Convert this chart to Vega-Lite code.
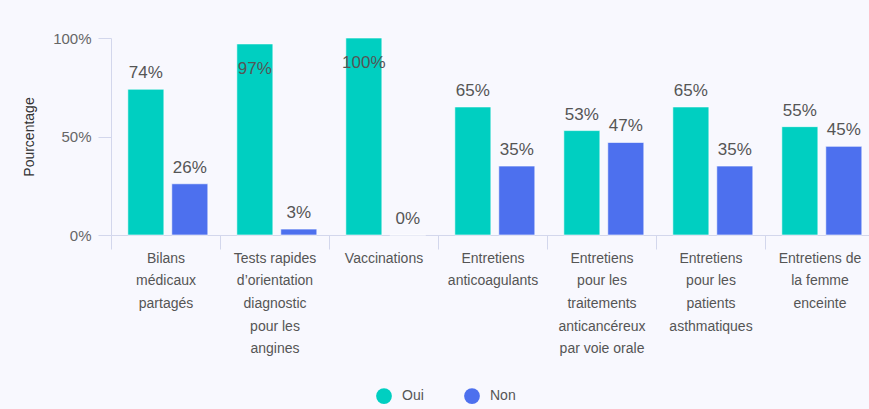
{
  "$schema": "https://vega.github.io/schema/vega-lite/v6.json",
  "autosize": {"type": "none"},
  "width": 763,
  "height": 197,
  "padding": {"left": 111, "top": 38, "right": 0, "bottom": 174},
  "background": "#f8f8fe",
  "config": {
    "view": {"stroke": null},
    "font": "Liberation Sans"
  },
  "data": {
    "values": [
      {"acte": "Bilans|médicaux|partagés", "reponse": "Oui", "pct": 74},
      {"acte": "Bilans|médicaux|partagés", "reponse": "Non", "pct": 26},
      {"acte": "Tests rapides|d’orientation|diagnostic|pour les|angines", "reponse": "Oui", "pct": 97},
      {"acte": "Tests rapides|d’orientation|diagnostic|pour les|angines", "reponse": "Non", "pct": 3},
      {"acte": "Vaccinations", "reponse": "Oui", "pct": 100},
      {"acte": "Vaccinations", "reponse": "Non", "pct": 0},
      {"acte": "Entretiens|anticoagulants", "reponse": "Oui", "pct": 65},
      {"acte": "Entretiens|anticoagulants", "reponse": "Non", "pct": 35},
      {"acte": "Entretiens|pour les|traitements|anticancéreux|par voie orale", "reponse": "Oui", "pct": 53},
      {"acte": "Entretiens|pour les|traitements|anticancéreux|par voie orale", "reponse": "Non", "pct": 47},
      {"acte": "Entretiens|pour les|patients|asthmatiques", "reponse": "Oui", "pct": 65},
      {"acte": "Entretiens|pour les|patients|asthmatiques", "reponse": "Non", "pct": 35},
      {"acte": "Entretiens de|la femme|enceinte", "reponse": "Oui", "pct": 55},
      {"acte": "Entretiens de|la femme|enceinte", "reponse": "Non", "pct": 45}
    ]
  },
  "encoding": {
    "x": {
      "field": "acte",
      "type": "nominal",
      "sort": null,
      "scale": {"paddingInner": 0, "paddingOuter": 0},
      "axis": {
        "title": null,
        "labelAngle": 0,
        "labelExpr": "split(datum.label, '|')",
        "labelFontSize": 14,
        "labelColor": "#555555",
        "labelLineHeight": 22.7,
        "labelPadding": 2,
        "labelLimit": 200,
        "tickBand": "extent",
        "tickSize": 14,
        "tickColor": "#d3d7ec",
        "domainColor": "#d3d7ec",
        "labelBaseline": "top"
      }
    },
    "xOffset": {
      "field": "reponse",
      "type": "nominal",
      "sort": ["Oui", "Non"],
      "scale": {"paddingInner": 0.18, "paddingOuter": 0.33, "align": 0.58}
    },
    "y": {
      "field": "pct",
      "type": "quantitative",
      "scale": {"domain": [0, 100]},
      "axis": {
        "title": "Pourcentage",
        "titleFontSize": 14,
        "titleFontWeight": "normal",
        "titleColor": "#333333",
        "titlePadding": 16,
        "values": [0, 50, 100],
        "labelExpr": "datum.value + '%'",
        "labelFontSize": 15,
        "labelColor": "#666666",
        "labelPadding": 7,
        "tickSize": 13,
        "tickColor": "#d3d7ec",
        "domainColor": "#d3d7ec",
        "grid": false
      }
    },
    "color": {
      "field": "reponse",
      "type": "nominal",
      "sort": ["Oui", "Non"],
      "scale": {"domain": ["Oui", "Non"], "range": ["#00cfc1", "#4d70ee"]},
      "legend": {
        "title": null,
        "orient": "none",
        "direction": "horizontal",
        "legendX": 265,
        "legendY": 350,
        "padding": 0,
        "symbolType": "circle",
        "symbolSize": 250,
        "symbolStrokeWidth": 0,
        "symbolOpacity": 1,
        "labelFontSize": 14,
        "labelColor": "#555555",
        "labelOffset": 10,
        "columnPadding": 40
      }
    }
  },
  "layer": [
    {
      "mark": {"type": "bar", "stroke": "#ffffff", "strokeWidth": 1, "strokeOpacity": 0.6}
    },
    {
      "transform": [
        {"filter": "datum.pct < 90"},
        {"calculate": "datum.pct + '%'", "as": "etiquette"}
      ],
      "mark": {"type": "text", "baseline": "alphabetic", "dy": -11, "fontSize": 17},
      "encoding": {
        "text": {"field": "etiquette", "type": "nominal"},
        "color": {"value": "#555555"}
      }
    },
    {
      "transform": [
        {"filter": "datum.pct >= 90"},
        {"calculate": "datum.pct + '%'", "as": "etiquette"}
      ],
      "mark": {"type": "text", "baseline": "top", "dy": 17, "fontSize": 17},
      "encoding": {
        "text": {"field": "etiquette", "type": "nominal"},
        "color": {"value": "#555555"}
      }
    }
  ]
}
